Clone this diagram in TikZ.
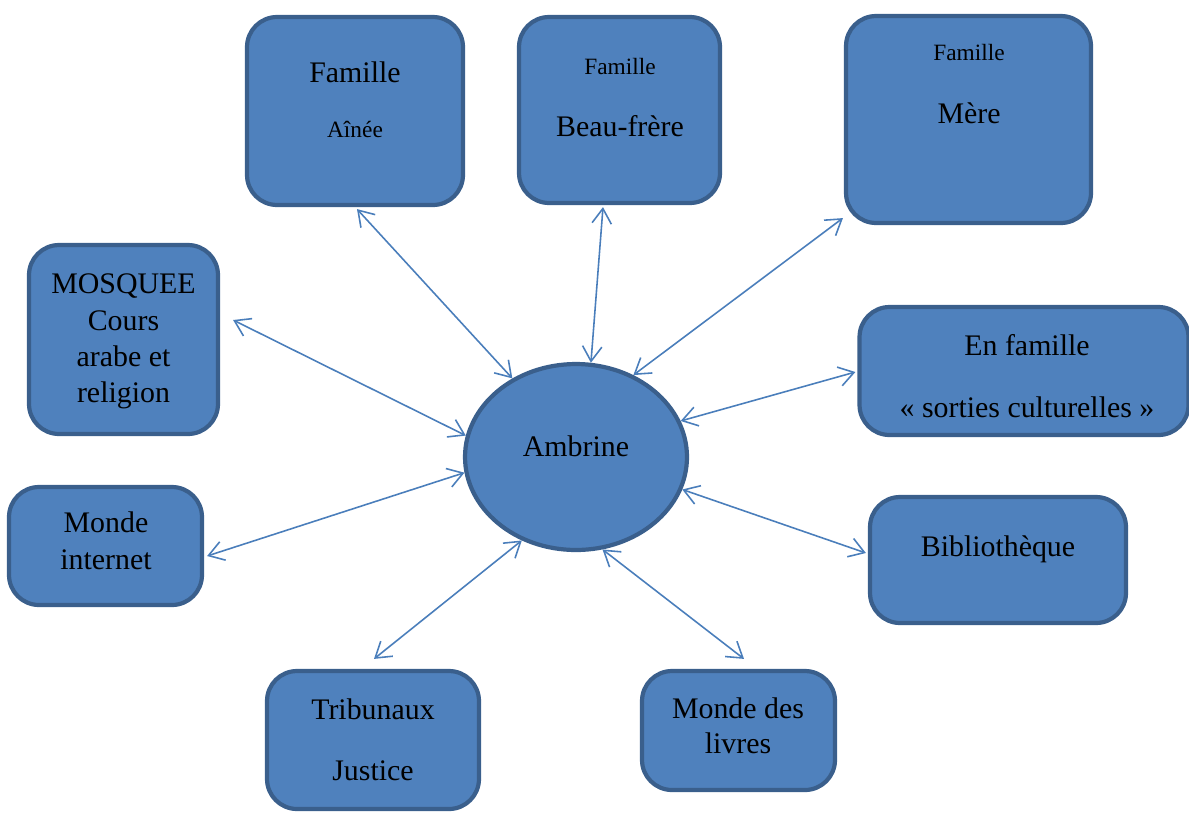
\documentclass[tikz,border=0pt]{standalone}
\usepackage{fontspec}
\setmainfont{Liberation Serif}
\usetikzlibrary{arrows.meta,shapes.geometric}
\definecolor{boxfill}{HTML}{4F81BD}
\definecolor{boxline}{HTML}{3A5F8C}
\definecolor{arrowc}{HTML}{4A7EBB}
\tikzset{
  card/.style={draw=boxline, fill=boxfill, line width=2.4pt, rounded corners=0.6cm, inner sep=0pt},
  hub/.style={ellipse, draw=boxline, fill=boxfill, line width=2.4pt, inner sep=0pt, minimum width=4.44cm, minimum height=3.72cm},
  big/.style={inner sep=0pt, anchor=base, font=\fontsize{17}{20}\selectfont},
  small/.style={inner sep=0pt, anchor=base, font=\fontsize{13.3}{16}\selectfont},
  link/.style={draw=arrowc, line width=0.9pt, {Straight Barb[length=8.5pt,width=11pt]}-{Straight Barb[length=8.5pt,width=11pt]}}
}
\begin{document}
\begin{tikzpicture}[x=0.02cm, y=-0.02cm]
\useasboundingbox (0,0) rectangle (1189,812);
% boxes
\node[card, minimum width=4.32cm, minimum height=3.76cm] (ainee) at (355,111) {};
\node[card, minimum width=4.02cm, minimum height=3.72cm] (bf) at (619.5,110) {};
\node[card, minimum width=4.90cm, minimum height=4.14cm] (mere) at (968.5,119.5) {};
\node[card, minimum width=3.78cm, minimum height=3.78cm] (mosq) at (123.5,339.5) {};
\node[card, minimum width=6.58cm, minimum height=2.56cm] (ef) at (1024,371) {};
\node[card, minimum width=3.86cm, minimum height=2.36cm] (net) at (105.5,546) {};
\node[card, minimum width=5.12cm, minimum height=2.52cm] (bib) at (998,560) {};
\node[card, minimum width=4.24cm, minimum height=2.76cm] (trib) at (373,740) {};
\node[card, minimum width=3.86cm, minimum height=2.38cm] (liv) at (738.5,730.5) {};
\node[hub] (amb) at (576,457) {};
% texts
\node[big] (ainee-a) at (355,82) {Famille};
\node[small] (ainee-b) at (355,137) {Aînée};
\node[small] (bf-a) at (620,74) {Famille};
\node[big] (bf-b) at (620,136) {Beau-frère};
\node[small] (mere-a) at (969,60) {Famille};
\node[big] (mere-b) at (969,123) {Mère};
\node[big] (mosq-a) at (123.5,293) {MOSQUEE};
\node[big] (mosq-b) at (123.5,330) {Cours};
\node[big] (mosq-c) at (123.5,366) {arabe et};
\node[big] (mosq-d) at (123.5,402) {religion};
\node[big] (ef-a) at (1027,355) {En famille};
\node[big] (ef-b) at (1027,417) {« sorties culturelles »};
\node[big] (net-a) at (106,532) {Monde};
\node[big] (net-b) at (106,569) {internet};
\node[big] (bib-a) at (998,556) {Bibliothèque};
\node[big] (trib-a) at (373,719) {Tribunaux};
\node[big] (trib-b) at (373,780) {Justice};
\node[big] (liv-a) at (738,718) {Monde des};
\node[big] (liv-b) at (738,753) {livres};
\node[big] (amb-a) at (576,456) {Ambrine};
% connectors
\draw[link] ([shift={(2,2)}]ainee.south) -- (amb.129);
\draw[link] ([shift={(-16.5,2)}]bf.south) -- (amb.81.5);
\draw[link] ([shift={(-1,-7)}]mere.south west) -- (amb.55);
\draw[link] ([shift={(13,-19.5)}]mosq.east) -- (amb.169);
\draw[link] ([shift={(-2,1)}]ef.west) -- (amb.19.4);
\draw[link] ([shift={(3,10)}]net.east) -- (amb.188);
\draw[link] ([shift={(-2,-7)}]bib.west) -- (amb.343.4);
\draw[link] ([shift={(1,-10)}]trib.north) -- (amb.237);
\draw[link] ([shift={(5.5,-10)}]liv.north) -- (amb.286);
\end{tikzpicture}
\end{document}
